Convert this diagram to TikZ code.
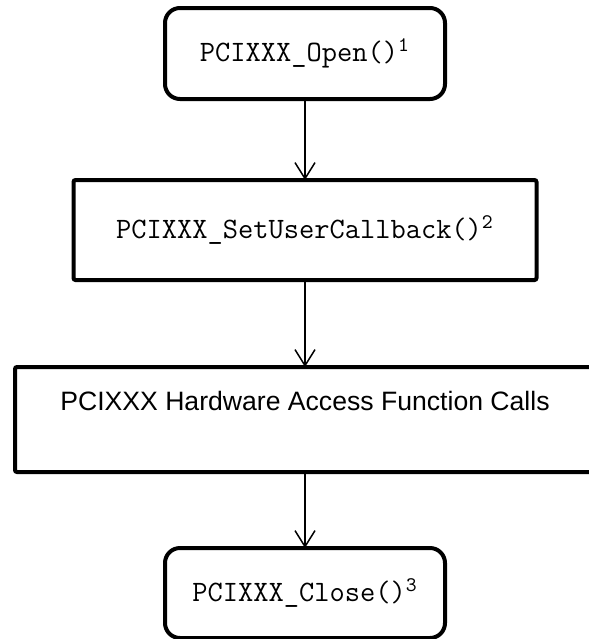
\documentclass[tikz,border=0pt]{standalone}
\usepackage{fontspec}
\setmainfont{Liberation Sans}
\setmonofont{Latin Modern Mono}
\usetikzlibrary{positioning,arrows.meta}
\tikzstyle{call} = [draw,line width=2pt,rectangle,rounded corners=7.5pt,inner sep=0,outer sep=0,minimum width=140pt,font=\ttfamily\fontsize{14.8}{17}\selectfont]
\tikzstyle{setup} = [draw,line width=2pt,rectangle,rounded corners=1pt,inner sep=0,outer sep=0,minimum width=231.5pt,minimum height=50pt,font=\ttfamily\fontsize{14.8}{17}\selectfont]
\tikzstyle{access} = [draw,line width=2pt,rectangle,rounded corners=1pt,inner sep=0,outer sep=0,minimum width=290pt,text height=21.5pt,text depth=31pt,font=\fontsize{13.3}{16}\selectfont]
\tikzstyle{flow} = [-{Straight Barb[length=8pt,width=10pt]},line width=0.75pt]
\def \gap {40pt}

\begin{document}
\begin{tikzpicture}[node distance=\gap]
      \useasboundingbox (0,0) rectangle (294.5pt,-319.5pt);
      \node[call,minimum height=45.5pt] (open) at (152.5pt,-26.75pt) {PCIXXX\_Open()\textsuperscript{1}};
      \node[setup,below=40.5pt of open] (callback) {PCIXXX\_SetUserCallback()\textsuperscript{2}};
      \node[access,below=43.5pt of callback] (hw) {PCIXXX Hardware Access Function Calls};
      \node[call,minimum height=45pt,below=38pt of hw] (close) {PCIXXX\_Close()\textsuperscript{3}};
      \draw[flow] (open) -- (callback);
      \draw[flow] (callback) -- (hw);
      \draw[flow] (hw) -- (close);
\end{tikzpicture}
\end{document}
